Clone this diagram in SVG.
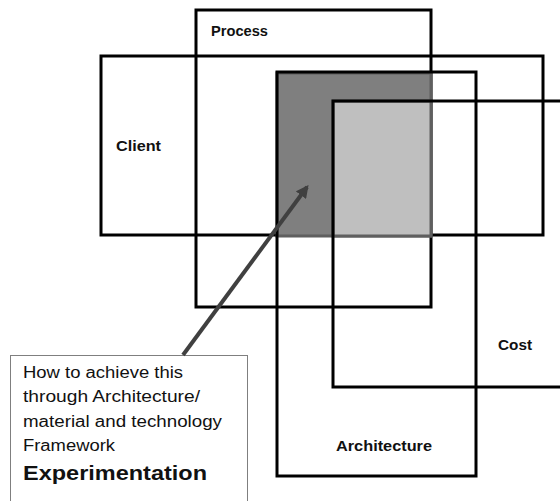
<svg xmlns="http://www.w3.org/2000/svg" width="560" height="501" viewBox="0 0 560 501">
<defs>
<style>
.box{fill:none;stroke:#000;stroke-width:3}
.lbl{font-family:"Liberation Sans",Arial,sans-serif;font-weight:bold;font-size:15px;fill:#111}
.note{font-family:"Liberation Sans",Arial,sans-serif;font-size:16px;fill:#111}
.big{font-family:"Liberation Sans",Arial,sans-serif;font-weight:bold;font-size:21px;fill:#111}
</style>
<marker id="ah" viewBox="0 0 10 10" refX="8" refY="5" markerWidth="3.2" markerHeight="3.2" orient="auto" markerUnits="strokeWidth">
<path d="M0,0 L10,5 L0,10 z" fill="#404040"/>
</marker>
</defs>
<rect width="560" height="501" fill="#fff"/>
<g id="client">
<rect class="box" x="101" y="56" width="442" height="179"/>
<text class="lbl" x="116" y="151" textLength="45" lengthAdjust="spacingAndGlyphs">Client</text>
</g>
<g id="process">
<rect class="box" x="196" y="10" width="235" height="297"/>
<text class="lbl" x="211" y="36" textLength="57" lengthAdjust="spacingAndGlyphs">Process</text>
</g>
<g id="overlap">
<rect x="277" y="73" width="154" height="163" fill="#7f7f7f" stroke="#5f5f5f" stroke-width="3"/>
<rect x="333" y="101" width="98" height="135" fill="#bfbfbf" stroke="#5f5f5f" stroke-width="3"/>
</g>
<g id="architecture">
<rect class="box" x="277" y="72" width="199" height="404"/>
<text class="lbl" x="336" y="451" textLength="96" lengthAdjust="spacingAndGlyphs">Architecture</text>
</g>
<g id="cost">
<rect class="box" x="333" y="101" width="260" height="286"/>
<text class="lbl" x="498" y="350" textLength="34" lengthAdjust="spacingAndGlyphs">Cost</text>
</g>
<g id="note">
<rect x="10.5" y="355.5" width="237" height="160" fill="#fff" stroke="#7f7f7f" stroke-width="1"/>
<text class="note" x="23" y="378" textLength="160" lengthAdjust="spacingAndGlyphs">How to achieve this</text>
<text class="note" x="23" y="402" textLength="177" lengthAdjust="spacingAndGlyphs">through Architecture/</text>
<text class="note" x="23" y="427" textLength="199" lengthAdjust="spacingAndGlyphs">material and technology</text>
<text class="note" x="23" y="451" textLength="92" lengthAdjust="spacingAndGlyphs">Framework</text>
<text class="big" x="23" y="480" textLength="184" lengthAdjust="spacingAndGlyphs">Experimentation</text>
</g>
<g id="connectors">
<line x1="183" y1="355" x2="307" y2="187" stroke="#404040" stroke-width="4" marker-end="url(#ah)"/>
</g>
</svg>
